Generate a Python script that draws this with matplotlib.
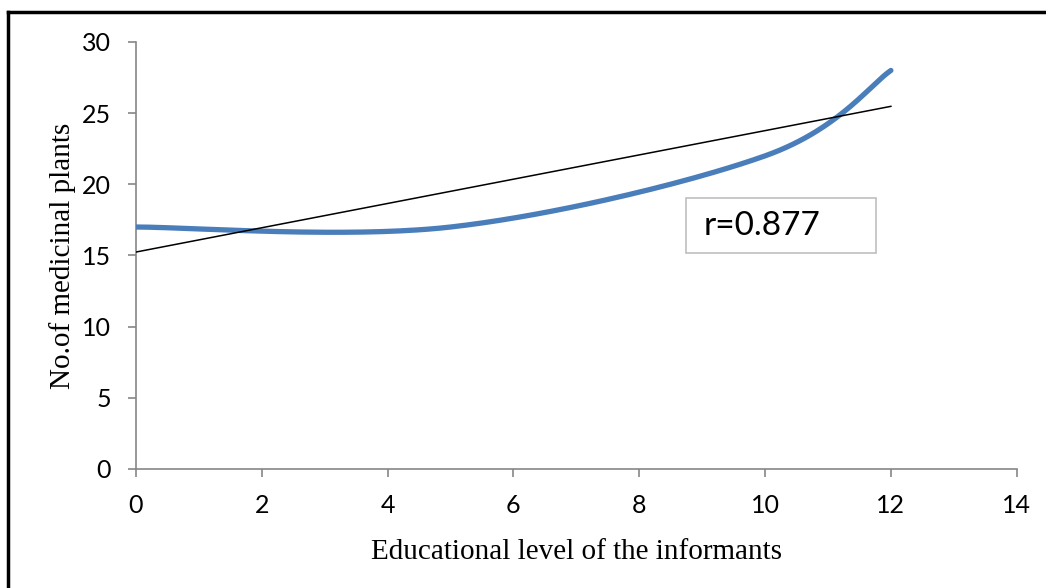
import numpy as np
import matplotlib.pyplot as plt
from matplotlib.lines import Line2D
from matplotlib.patches import Rectangle

# data
edu_level = [0, 5, 10, 12]
n_plants = [17, 17, 22, 28]
r_label = "r=0.877"


def excel_smooth(x, y, n=60):
    # bezier smoothing like the Excel "smoothed line" option
    x = np.asarray(x, float)
    y = np.asarray(y, float)
    px = np.concatenate([[x[0]], x, [x[-1]]])
    py = np.concatenate([[y[0]], y, [y[-1]]])
    xs, ys = [], []
    t = np.linspace(0, 1, n)
    for i in range(1, len(px) - 2):
        p0 = np.array([px[i], py[i]])
        p3 = np.array([px[i + 1], py[i + 1]])
        p1 = p0 + (np.array([px[i + 1], py[i + 1]]) - np.array([px[i - 1], py[i - 1]])) / 6
        p2 = p3 - (np.array([px[i + 2], py[i + 2]]) - np.array([px[i], py[i]])) / 6
        b = ((1 - t) ** 3)[:, None] * p0 + (3 * (1 - t) ** 2 * t)[:, None] * p1 \
            + (3 * (1 - t) * t ** 2)[:, None] * p2 + (t ** 3)[:, None] * p3
        xs.extend(b[:, 0])
        ys.extend(b[:, 1])
    return np.array(xs), np.array(ys)


fig = plt.figure(figsize=(10.46, 5.88), dpi=100)
ax = fig.add_axes([0.130, 0.2024, 0.842, 0.7262])

sx, sy = excel_smooth(edu_level, n_plants)
ax.plot(sx, sy, color='#4A7EBB', lw=3.8, solid_capstyle='round', zorder=3)

slope, intercept = np.polyfit(edu_level, n_plants, 1)
tx = np.array([edu_level[0], edu_level[-1]])
ax.plot(tx, intercept + slope * tx, color='black', lw=1.1, zorder=4)

ax.add_patch(Rectangle((8.74, 15.18), 3.03, 3.86, facecolor='white',
                       edgecolor='#BFBFBF', lw=1.2, zorder=5))
ax.text(9.02, 17.05, r_label, fontsize=24, family='Lato', va='center', zorder=6)

ax.set_xlim(0, 14)
ax.set_ylim(0, 30)
ax.set_xticks(range(0, 15, 2))
ax.set_yticks(range(0, 31, 5))
for s in ['top', 'right']:
    ax.spines[s].set_visible(False)
for s in ['left', 'bottom']:
    ax.spines[s].set_color('#868686')
    ax.spines[s].set_linewidth(1.2)
ax.tick_params(direction='out', length=6, width=1.2, color='#868686',
               labelsize=18)
ax.tick_params(axis='x', pad=12)
ax.tick_params(axis='y', pad=12)
for lab in ax.get_xticklabels() + ax.get_yticklabels():
    lab.set_family('Lato')

ax.set_xlabel('Educational level of the informants', family='Liberation Serif',
              fontsize=21, labelpad=16)
ax.set_ylabel('No.of medicinal plants', family='Liberation Serif',
              fontsize=21, labelpad=4)

# outer frame (top and left only visible)
fig.add_artist(Line2D([0.0077, 1.0], [0.979, 0.979], color='black', lw=2.5))
fig.add_artist(Line2D([0.0077, 0.0077], [0.0, 0.979], color='black', lw=2.5))

fig.savefig('out.png', dpi=100)
